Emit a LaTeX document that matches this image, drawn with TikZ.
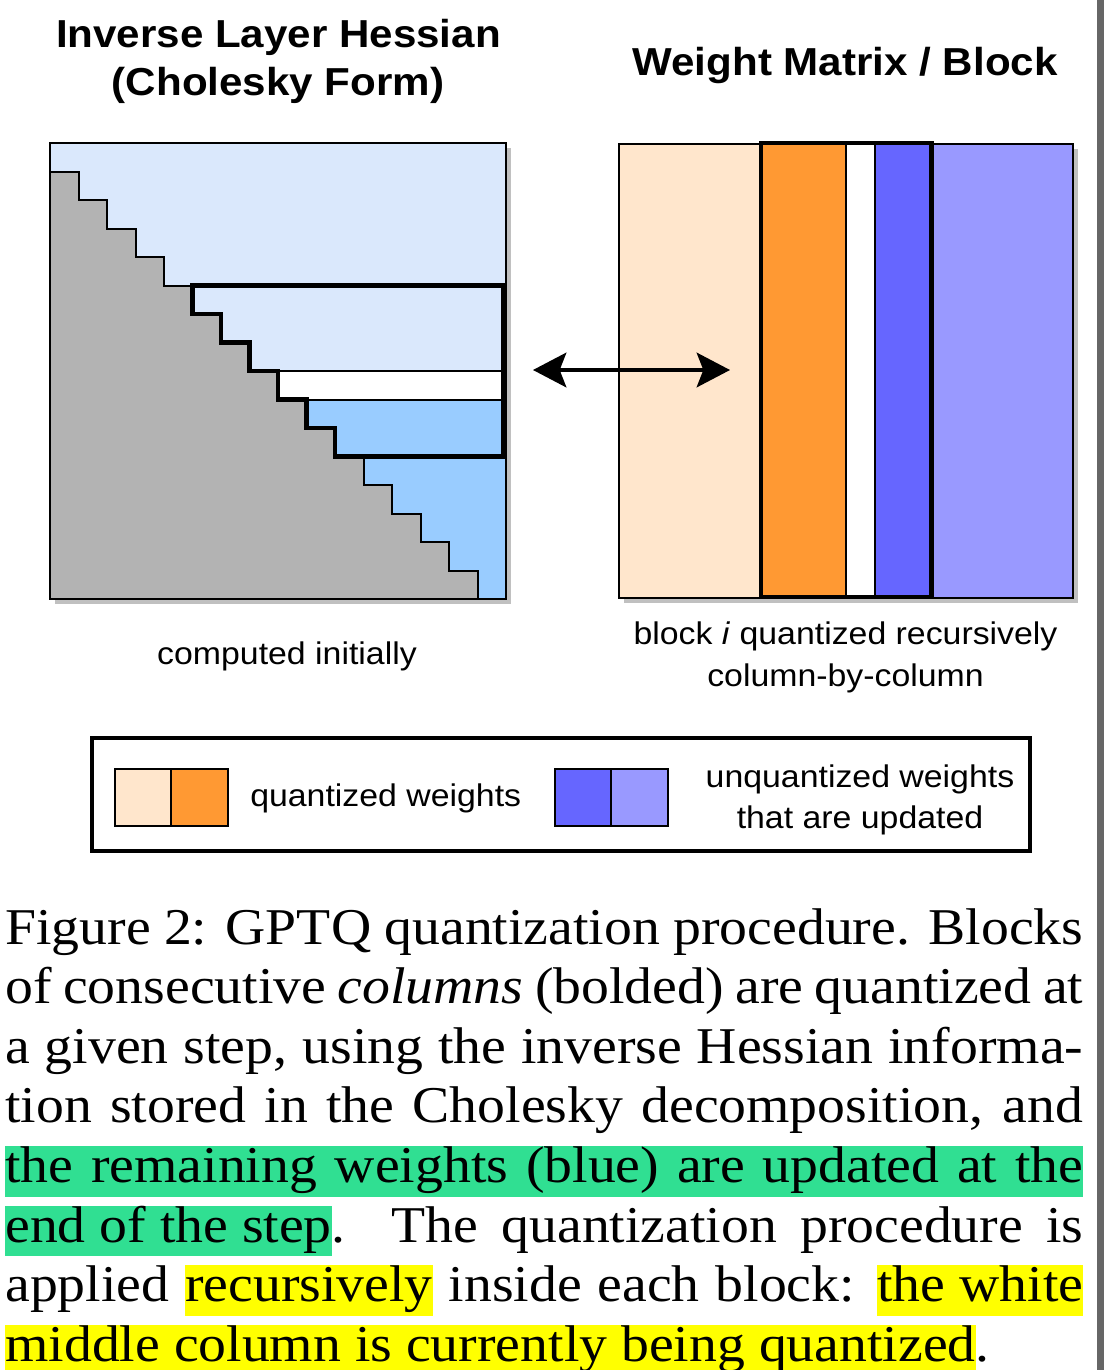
\documentclass[tikz,border=0pt]{standalone}
\usepackage{fontspec}
\usetikzlibrary{arrows.meta,positioning}
\setmainfont{Liberation Serif}
\newfontfamily\arialfont{Liberation Sans}

\definecolor{hesslight}{HTML}{DAE8FC}
\definecolor{hessmid}{HTML}{99CCFF}
\definecolor{hessgray}{HTML}{B3B3B3}
\definecolor{wqlight}{HTML}{FFE6CC}
\definecolor{wqdark}{HTML}{FF9933}
\definecolor{wudark}{HTML}{6666FF}
\definecolor{wulight}{HTML}{9999FF}
\definecolor{shadowgray}{HTML}{C0C0C0}
\definecolor{edgegray}{HTML}{666666}
\definecolor{hlgreen}{HTML}{30DF92}
\definecolor{hlyellow}{HTML}{FFFF00}

\setlength{\fboxsep}{0pt}
\newlength{\capw}\setlength{\capw}{748.6pt}
\newcommand{\capstrut}{\rule[-0.275em]{0pt}{0.98em}}
\newcommand{\hlg}[1]{\colorbox{hlgreen}{\capstrut #1}}
\newcommand{\hly}[1]{\colorbox{hlyellow}{\capstrut #1}}

\begin{document}
\begin{tikzpicture}[x=0.75pt, y=-0.75pt]

\tikzset{headtext/.style={font=\arialfont\bfseries\fontsize{29.25}{36}\selectfont, inner sep=0, anchor=base, xscale=1.08}}
\tikzset{smalltext/.style={font=\arialfont\fontsize{23.5}{30}\selectfont, inner sep=0, anchor=base, xscale=1.08}}
\tikzset{capline/.style={font=\fontsize{38.7}{45}\selectfont, inner sep=0, anchor=base west, xscale=1.08}}
\tikzset{thinline/.style={draw=black, line width=1.5pt}}
\tikzset{boldline/.style={draw=black, line width=3.4pt}}
\tikzset{swatch/.style={thinline, rectangle, minimum width=42.4pt, minimum height=42.75pt, inner sep=0, outer sep=0}}
\tikzset{linkarrow/.style={line width=2.4pt, {Stealth[length=25pt, width=26pt, inset=5pt]}-{Stealth[length=25pt, width=26pt, inset=5pt]}}}

\useasboundingbox (0,0) rectangle (1104,1370);
\fill[edgegray] (1097,0) rectangle (1104,1370);

% titles
\node[headtext] (hessT1) at (278.5,48) {Inverse Layer Hessian};
\node[headtext] (hessT2) at (278,95) {(Cholesky Form)};
\node[headtext] (blockT) at (845,75) {Weight Matrix / Block};

% inverse hessian, 16 x 16 cells
\def\hc{28.5}
\fill[shadowgray] (55,148) rectangle (511,604);
\fill[hessgray] (50,143) rectangle (506,599);
\foreach \r in {0,...,7} \fill[hesslight] ({50+\r*\hc},{143+\r*\hc}) rectangle (506,{143+(\r+1)*\hc});
\fill[white] ({50+8*\hc},{143+8*\hc}) rectangle (506,{143+9*\hc});
\foreach \r in {9,...,15} \fill[hessmid] ({50+\r*\hc},{143+\r*\hc}) rectangle (506,{143+(\r+1)*\hc});
\draw[thinline] (50,{143+\hc}) \foreach \k in {1,...,15} { -- ({50+\k*\hc},{143+\k*\hc}) -- ({50+\k*\hc},{143+(\k+1)*\hc}) };
\foreach \r in {5,8,9,11} \draw[thinline] ({50+(\r-1)*\hc},{143+\r*\hc}) -- (506,{143+\r*\hc});
\draw[thinline] (50,143) rectangle (506,599);
\draw[boldline] (503,{143+5*\hc}) -- (503,{143+11*\hc}) \foreach \k in {10,9,...,5} { -- ({50+\k*\hc},{143+(\k+1)*\hc}) -- ({50+\k*\hc},{143+\k*\hc}) } -- cycle;

% weight matrix, column groups
\def\wc{28.4}
\fill[shadowgray] (624,149) rectangle (1078,603);
\foreach \a/\b/\clr in {0/5/wqlight, 5/8/wqdark, 8/9/white, 9/11/wudark, 11/16/wulight}
  \filldraw[thinline, fill=\clr] ({619+\a*\wc},144) rectangle ({619+\b*\wc},598);
\draw[boldline] ({619+5*\wc},143) rectangle ({619+11*\wc},597);

% link between the two
\coordinate (hessArrow) at (533,370);
\coordinate (blockArrow) at (730,370);
\draw[linkarrow] (hessArrow) -- (blockArrow);

% captions below
\node[smalltext] (hessCap) at (287,664) {computed initially};
\node[smalltext] (blockCap1) at (845.5,644) {block \textit{i} quantized recursively};
\node[smalltext] (blockCap2) at (845.5,686) {column-by-column};

% legend
\draw[line width=3pt] (92,738) rectangle (1030,851);
\node[swatch, fill=wqlight] (swQa) at (143,797.5) {};
\node[swatch, fill=wqdark, right=0pt of swQa] (swQb) {};
\node[smalltext, anchor=base west] (legQ) at (250,806) {quantized weights};
\node[swatch, fill=wudark] (swUa) at (583,797.5) {};
\node[swatch, fill=wulight, right=0pt of swUa] (swUb) {};
\node[smalltext] (legU1) at (860,787) {unquantized weights};
\node[smalltext] (legU2) at (860,828) {that are updated};

% figure caption
\node[capline] (cap1) at (5,944) {\makebox[\capw][s]{Figure 2: GPTQ quantization procedure. Blocks}};
\node[capline] (cap2) at (5,1003.6) {\makebox[\capw][s]{of consecutive \textit{columns} (bolded) are quantized at}};
\node[capline] (cap3) at (5,1063.2) {\makebox[\capw][s]{a given step, using the inverse Hessian informa-}};
\node[capline] (cap4) at (5,1122.8) {\makebox[\capw][s]{tion stored in the Cholesky decomposition, and}};
\node[capline] (cap5) at (5,1182.4) {\colorbox{hlgreen}{\makebox[\capw][s]{\capstrut the remaining weights (blue) are updated at the}}};
\node[capline] (cap6) at (5,1242) {\makebox[\capw][s]{\hlg{end of the step}. The quantization procedure is}};
\node[capline] (cap7) at (5,1301.6) {\makebox[\capw][s]{applied \hly{recursively} inside each block: \hly{the white}}};
\node[capline] (cap8) at (5,1361.2) {\hly{middle column is currently being quantized}.};

\end{tikzpicture}
\end{document}
